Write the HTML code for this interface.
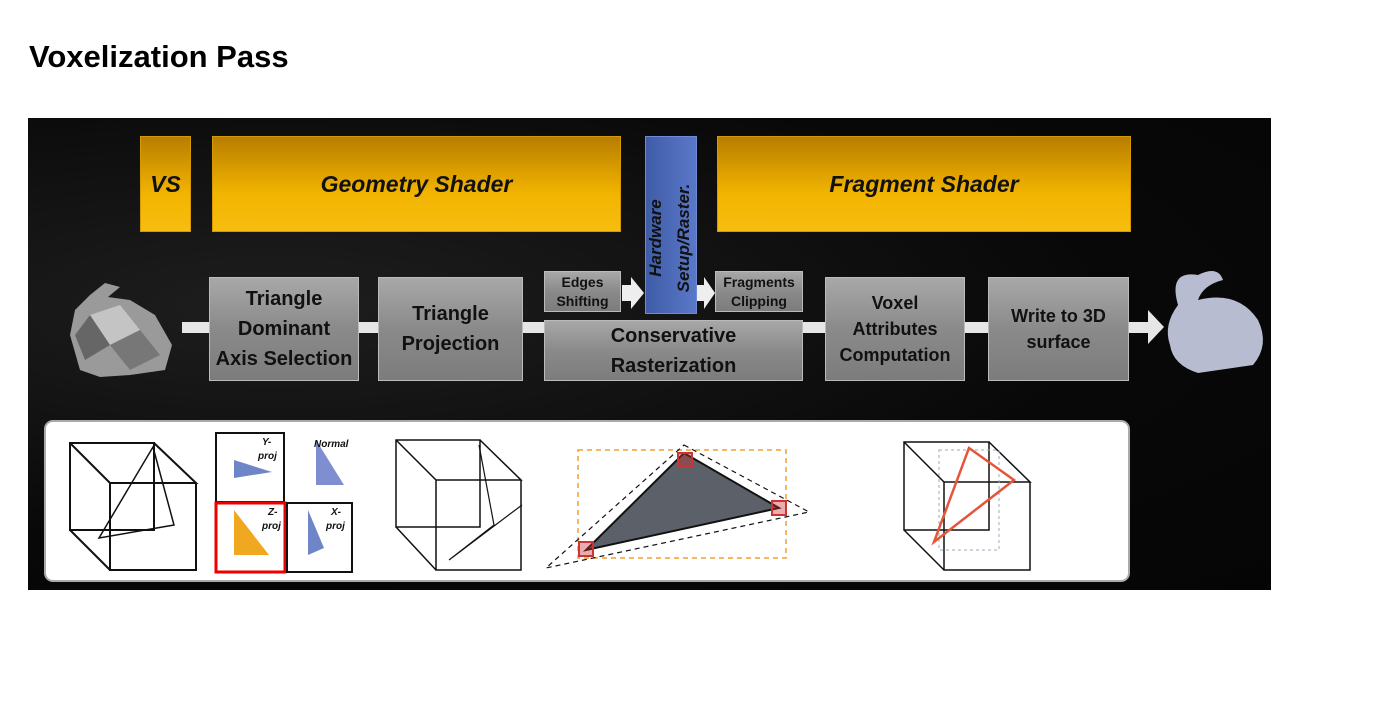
<!DOCTYPE html>
<html><head><meta charset="utf-8"><style>
body{margin:0;width:1399px;height:713px;background:#fff;position:relative;overflow:hidden;font-family:"Liberation Sans",sans-serif}
h1{position:absolute;left:29px;top:39px;margin:0;font-size:31px;font-weight:bold;color:#000}
.a{position:absolute}
.o{position:absolute;background:linear-gradient(#b87d00,#f2b400 60%,#f7bd10);border:1px solid #d59a00;display:flex;align-items:center;justify-content:center;font-style:italic;font-weight:bold;font-size:23px;color:#111}
.g{position:absolute;background:linear-gradient(#a8a8a8,#8a8a8a 50%,#7c7c7c);border:1px solid #bbb;display:flex;align-items:center;justify-content:center;text-align:center;font-weight:bold;color:#111;font-size:20px;line-height:30px}
.s{font-size:14px;line-height:19px}
</style></head><body>
<h1>Voxelization Pass</h1>
<div class="a" style="left:28px;top:118px;width:1243px;height:472px;background:radial-gradient(ellipse at 20% 40%,#1e1e1e,#080808 60%,#050505)"></div>
<div class="o" style="left:140px;top:136px;width:49px;height:94px">VS</div>
<div class="o" style="left:212px;top:136px;width:407px;height:94px">Geometry Shader</div>
<div class="o" style="left:717px;top:136px;width:412px;height:94px">Fragment Shader</div>
<div class="a" style="left:645px;top:136px;width:50px;height:176px;background:linear-gradient(90deg,#3f5ca8,#5a78c8);border:1px solid #6f8bd6"></div>
<div class="a" style="left:670px;top:224px;width:0;height:0"><div style="position:absolute;left:-90px;top:-14px;width:180px;transform:rotate(-90deg);text-align:center;font-style:italic;font-weight:bold;font-size:17px;line-height:28px;color:#111">Hardware<br>Setup/Raster.</div></div>
<div class="a" style="left:182px;top:322px;width:970px;height:11px;background:#e6e6e6"></div>
<div class="a" style="left:1148px;top:310px;width:0;height:0;border-top:17px solid transparent;border-bottom:17px solid transparent;border-left:16px solid #e6e6e6"></div>
<div class="a" style="left:622px;top:285px;width:10px;height:16px;background:#eee"></div>
<div class="a" style="left:631px;top:277px;border-top:16px solid transparent;border-bottom:16px solid transparent;border-left:13px solid #eee"></div>
<div class="a" style="left:697px;top:285px;width:8px;height:16px;background:#eee"></div>
<div class="a" style="left:704px;top:277px;border-top:16px solid transparent;border-bottom:16px solid transparent;border-left:11px solid #eee"></div>
<div class="g" style="left:209px;top:277px;width:148px;height:102px">Triangle<br>Dominant<br>Axis Selection</div>
<div class="g" style="left:378px;top:277px;width:143px;height:102px">Triangle<br>Projection</div>
<div class="g s" style="left:544px;top:271px;width:75px;height:39px">Edges<br>Shifting</div>
<div class="g s" style="left:715px;top:271px;width:86px;height:39px">Fragments<br>Clipping</div>
<div class="g" style="left:544px;top:320px;width:257px;height:59px">Conservative<br>Rasterization</div>
<div class="g" style="left:825px;top:277px;width:138px;height:102px;font-size:18px;line-height:26px">Voxel<br>Attributes<br>Computation</div>
<div class="g" style="left:988px;top:277px;width:139px;height:102px;font-size:18px;line-height:26px">Write to 3D<br>surface</div>
<svg class="a" style="left:60px;top:275px" width="130" height="110"><polygon points="30,20 45,8 60,12 48,22 70,25 95,40 112,70 105,95 70,100 40,102 20,95 10,60 15,35" fill="#9a9a9a"/><polygon points="30,40 60,30 80,55 50,70" fill="#c4c4c4"/><polygon points="50,70 80,55 100,80 70,95" fill="#777"/><polygon points="15,60 30,40 50,70 25,85" fill="#666"/></svg>
<svg class="a" style="left:1158px;top:265px" width="115" height="115"><path d="M20,40 Q10,5 40,10 Q60,0 65,15 Q45,20 40,35 Q80,25 100,55 Q112,80 95,100 L40,108 Q15,100 12,80 Q5,60 20,40Z" fill="#b8bcd0"/></svg>
<div class="a" style="left:44px;top:420px;width:1082px;height:158px;background:#fff;border:2px solid #aaa;border-radius:9px"></div>
<svg class="a" style="left:44px;top:420px" width="1086" height="162" fill="none" stroke="#111" stroke-width="2">
<path d="M26,23 L110,23 L110,110 L26,110Z M26,23 L66,63 L152,63 L110,23 M66,63 L66,150 L152,150 L152,63 M26,110 L66,150"/>
<path d="M109,27 L130,105 L55,118Z" stroke-width="1.5"/>
<rect x="172" y="13" width="68" height="69"/><rect x="172" y="83" width="69" height="69" stroke="#e00" stroke-width="3"/><rect x="243" y="83" width="65" height="69"/>
<polygon points="190,40 228,52 190,58" fill="#6e86c8" stroke="none"/><polygon points="190,90 190,135 225,135" fill="#f0a820" stroke="none"/><polygon points="264,90 264,135 280,128" fill="#6e86c8" stroke="none"/><polygon points="272,20 272,65 300,65" fill="#7e8ed0" stroke="none"/>
<g font-family="Liberation Sans" font-size="10" font-weight="bold" font-style="italic" fill="#111" stroke="none"><text x="218" y="25">Y-</text><text x="214" y="39">proj</text><text x="270" y="27">Normal</text><text x="224" y="95">Z-</text><text x="218" y="109">proj</text><text x="287" y="95">X-</text><text x="282" y="109">proj</text></g>
<path d="M352,20 L436,20 L436,107 L352,107Z M352,20 L392,60 L477,60 L436,20 M392,60 L392,150 L477,150 L477,60 M352,107 L392,150" stroke-width="1.5"/>
<path d="M435,25 L450,105 L405,140 L478,85" stroke-width="1.2"/>
<rect x="534" y="30" width="208" height="108" stroke="#f0a030" stroke-dasharray="5,4" stroke-width="1.5"/>
<polygon points="640,33 735,88 542,130" fill="#5c6068" stroke="#111"/>
<path d="M640,25 L765,92 L502,148Z" stroke-dasharray="5,4" stroke-width="1.2"/>
<g stroke="#c33" fill="rgba(200,50,50,.4)"><rect x="634" y="33" width="14" height="14"/><rect x="728" y="81" width="14" height="14"/><rect x="535" y="122" width="14" height="14"/></g>
<path d="M860,22 L945,22 L945,110 L860,110Z M860,22 L900,62 L986,62 L945,22 M900,62 L900,150 L986,150 L986,62 M860,110 L900,150" stroke-width="1.5"/>
<rect x="895" y="30" width="60" height="100" stroke="#9ab" stroke-width="1" stroke-dasharray="3,3"/>
<path d="M925,28 L970,60 L890,122Z" stroke="#e4553a" stroke-width="2.5"/>
</svg>
</body></html>
